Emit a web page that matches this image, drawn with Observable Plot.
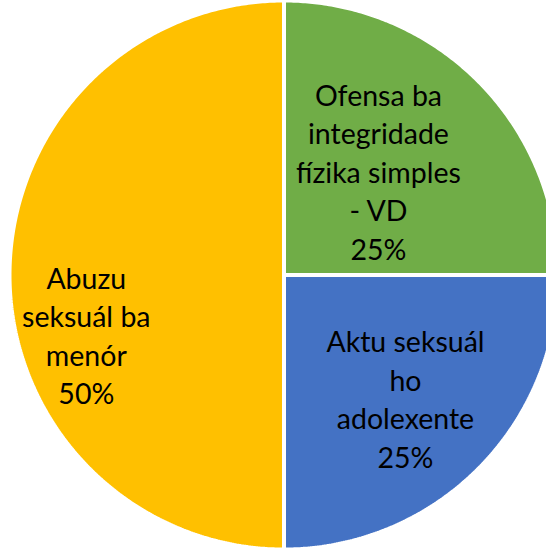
<!DOCTYPE html>
<html>
<head>
<meta charset="utf-8">
<script src="https://cdn.jsdelivr.net/npm/d3@7"></script>
<script src="https://cdn.jsdelivr.net/npm/@observablehq/plot@0.6"></script>
<style>
  html, body { margin: 0; padding: 0; background: #fff; }
  #chart svg { display: block; }
</style>
</head>
<body>
<div id="chart"></div>
<script>
// Data (Excel order: clockwise from 12 o'clock)
const categories = ["Ofensa ba integridade fízika simples - VD", "Aktu seksuál ho adolexente", "Abuzu seksuál ba menór"];
const labelLines = [
  "Ofensa ba\nintegridade\nfízika simples\n- VD\n25%",
  "Aktu seksuál\nho\nadolexente\n25%",
  "Abuzu\nseksuál ba\nmenór\n50%"
];
const values = [25, 25, 50];
const colors = ["#70AD47", "#4472C4", "#FFC000"];

const W = 546, H = 550;
const cx = 283.5, cy = 274.5, unit = 274.5; // pixel layout of the unit circle

const pie = d3.pie().sort(null).value(d => d)(values);

function slicePoints(p, i) {
  const pts = [{x: 0, y: 0, i}];
  const n = Math.max(2, Math.ceil((p.endAngle - p.startAngle) / (Math.PI / 360)));
  for (let k = 0; k <= n; k++) {
    const a = p.startAngle + (p.endAngle - p.startAngle) * k / n;
    pts.push({x: Math.sin(a), y: Math.cos(a), i});
  }
  return pts;
}

const labelOffsets = [[-22, 12], [5, 6], [-33, 59]];
const labels = pie.map((p, i) => {
  const a = (p.startAngle + p.endAngle) / 2;
  return {x: 0.6 * Math.sin(a), y: 0.6 * Math.cos(a), text: labelLines[i], i};
});

const marks = [];
pie.forEach((p, i) => {
  marks.push(Plot.line(slicePoints(p, i), {
    x: "x", y: "y", curve: "linear-closed",
    fill: colors[i], stroke: "white", strokeWidth: 4, strokeLinejoin: "miter"
  }));
});
labels.forEach((l, i) => {
  marks.push(Plot.text([l], {
    x: "x", y: "y", text: "text",
    dx: labelOffsets[i][0], dy: labelOffsets[i][1],
    fill: "black", fontSize: 28.5, lineHeight: 38.5 / 28.5,
    textAnchor: "middle", lineAnchor: "middle",
    fontFamily: "Lato, 'Open Sans', sans-serif"
  }));
});

const chart = Plot.plot({
  width: W, height: H,
  margin: 0,
  style: {background: "white"},
  x: {domain: [-cx / unit, (W - cx) / unit], axis: null},
  y: {domain: [-(H - cy) / unit, cy / unit], axis: null},
  marks
});
document.getElementById("chart").appendChild(chart);
</script>
</body>
</html>
